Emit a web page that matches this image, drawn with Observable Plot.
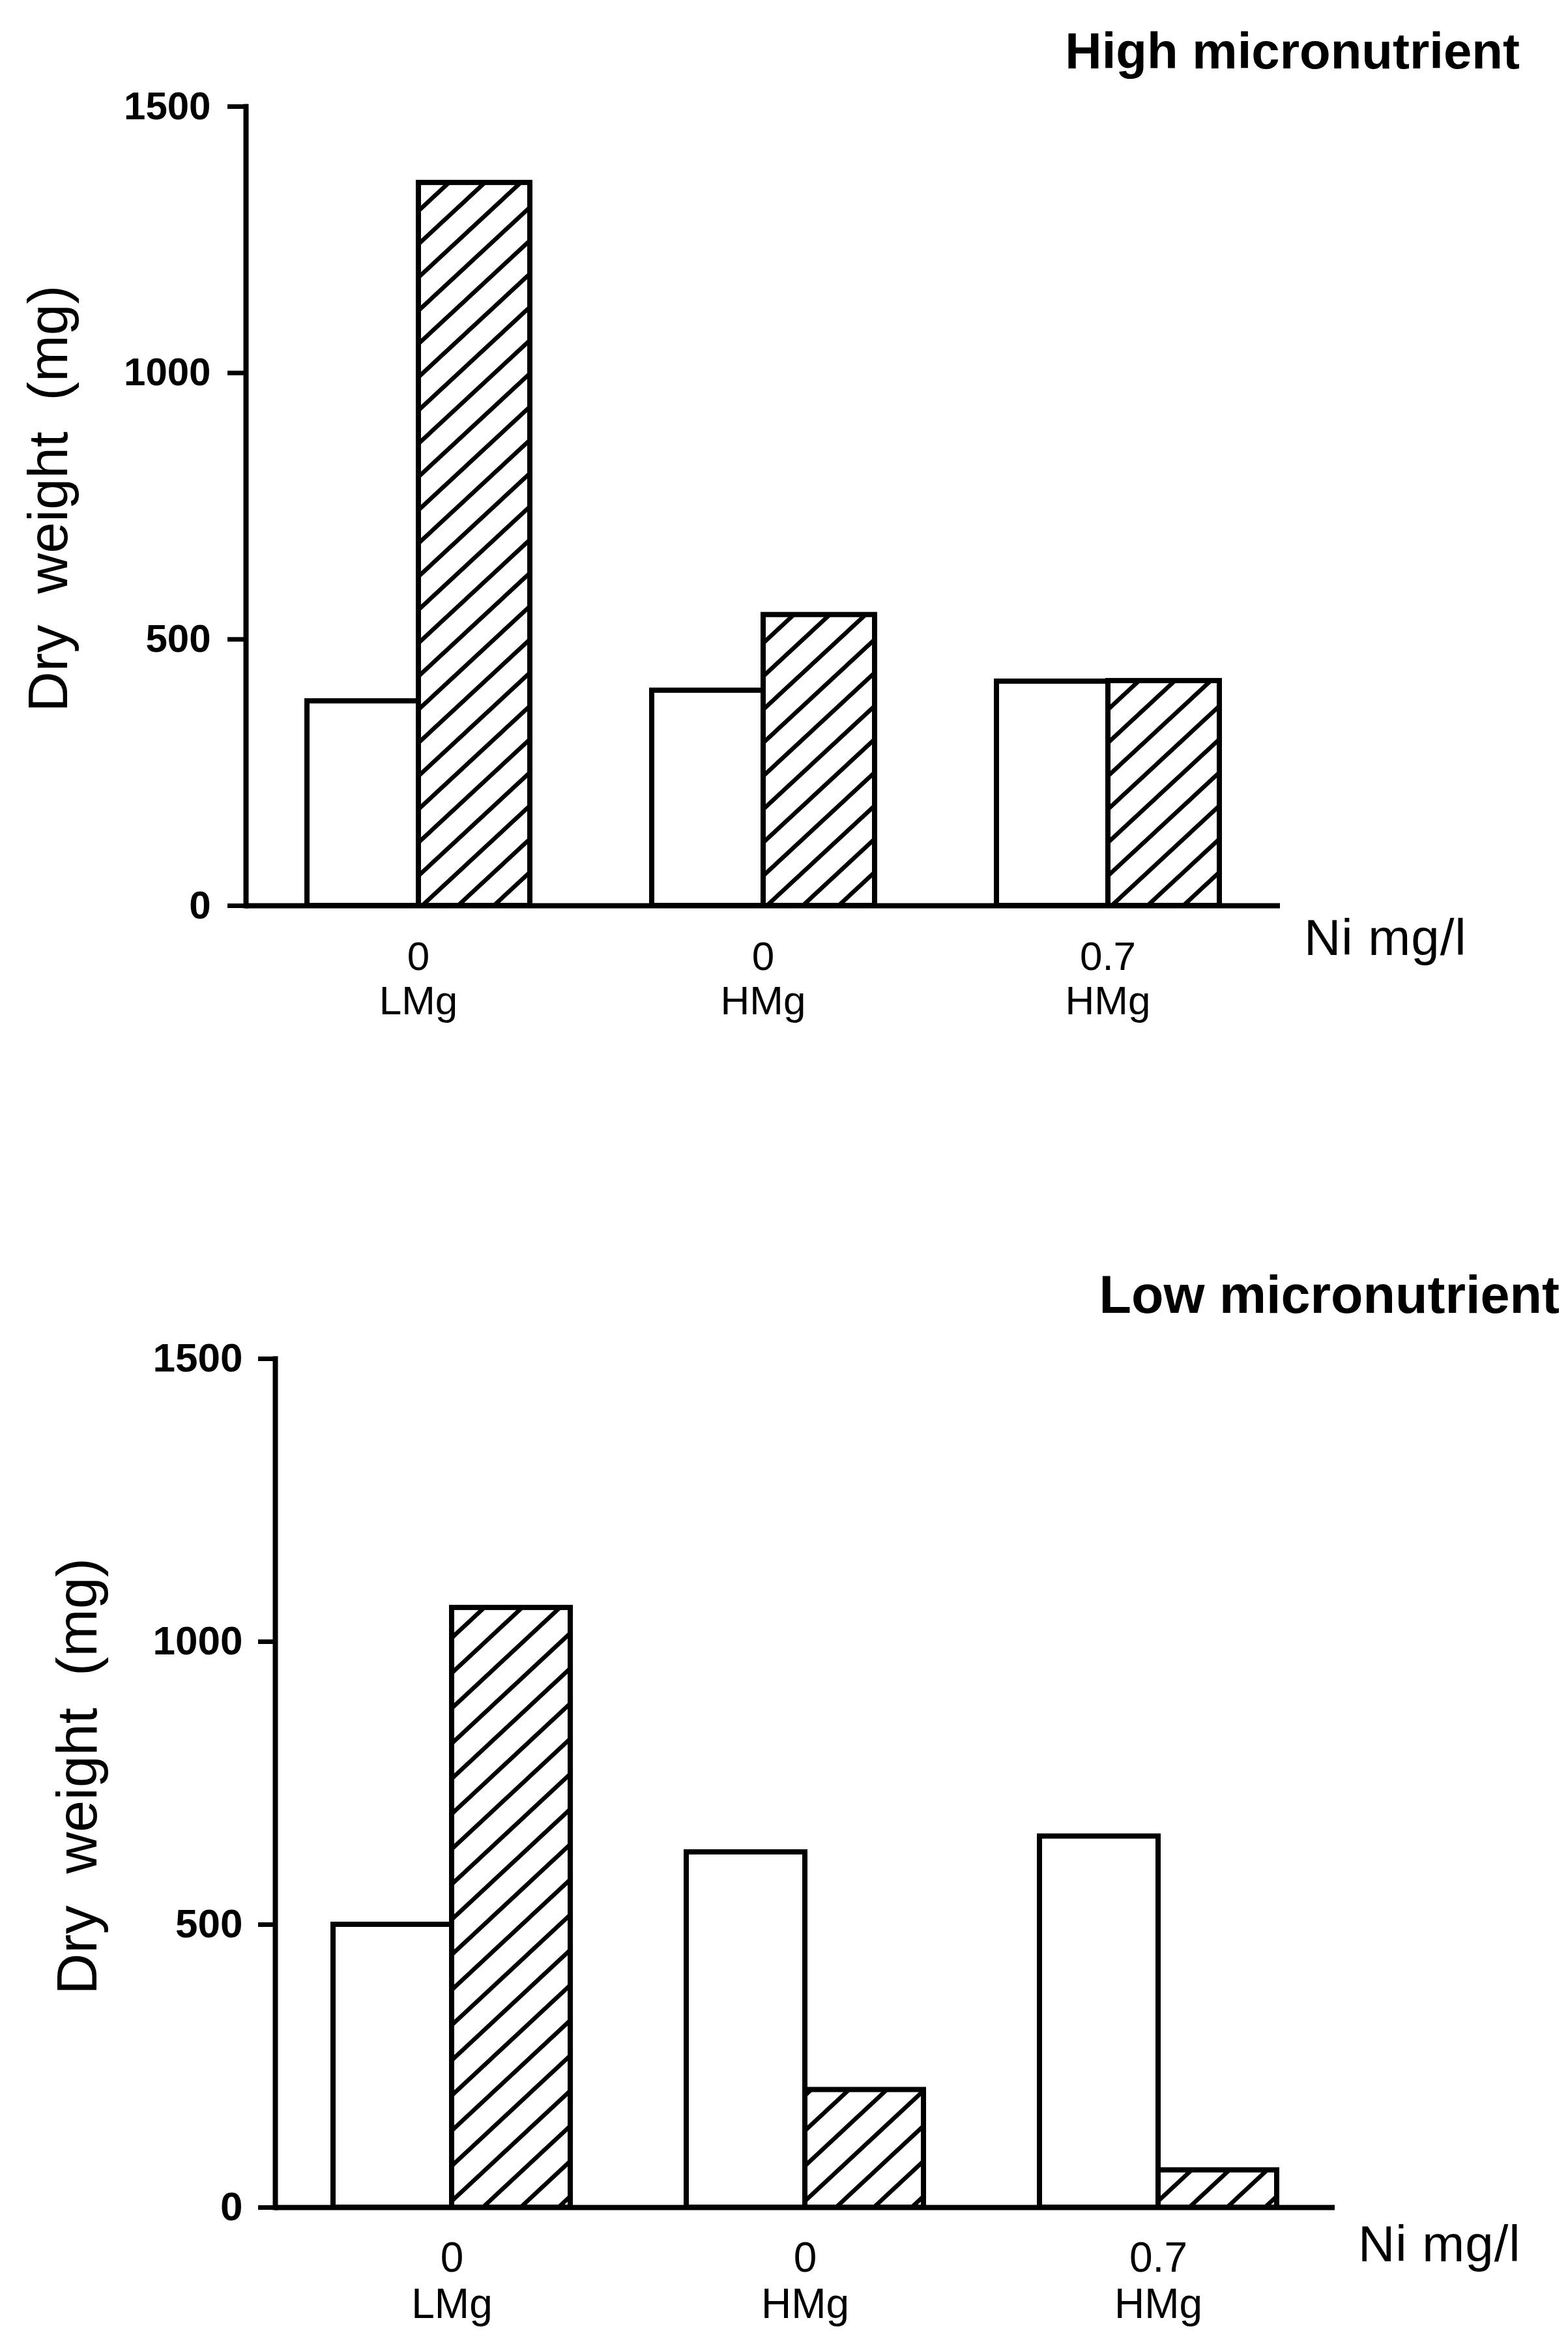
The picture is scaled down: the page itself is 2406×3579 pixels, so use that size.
<!DOCTYPE html>
<html>
<head>
<meta charset="utf-8">
<script src="https://cdn.jsdelivr.net/npm/d3@7"></script>
<script src="https://cdn.jsdelivr.net/npm/@observablehq/plot@0.6"></script>
<style>
  html, body { margin: 0; padding: 0; background: white; }
  #page { position: relative; width: 2406px; height: 3579px; background: white; overflow: hidden;
          font-family: "Liberation Sans", Arial, Helvetica, sans-serif; color: black; }
  .panel { position: absolute; left: 0; }
  .title { position: absolute; font-weight: bold; line-height: 1; white-space: nowrap; }
  .unit { position: absolute; line-height: 1; white-space: nowrap; letter-spacing: 1px; }
  .ylab { position: absolute; line-height: 1; white-space: pre; transform: translate(-50%, -50%) rotate(-90deg); }
</style>
</head>
<body>
<div id="page"></div>
<script>
// ---- data ----
const groups = ["0\nLMg", "0\nHMg", "0.7\nHMg"];          // Ni mg/l and Mg level
const seriesNames = ["open", "hatched"];
const yTicks = [0, 500, 1000, 1500];
const highOpen = [384, 404, 421];      // High micronutrient, open bars
const highHatched = [1357, 546, 422];  // High micronutrient, hatched bars
const lowOpen = [500, 628, 656];       // Low micronutrient, open bars
const lowHatched = [1060, 208, 66];    // Low micronutrient, hatched bars
const titles = ["High micronutrient", "Low micronutrient"];
const yLabel = "Dry  weight  (mg)";
const xUnit = "Ni mg/l";

const FONT = '"Liberation Sans", Arial, Helvetica, sans-serif';
const page = document.getElementById("page");

function panel(cfg) {
  const data = groups.flatMap((g, i) => [
    {group: g, series: "open", value: cfg.open[i]},
    {group: g, series: "hatched", value: cfg.hatched[i]}
  ]);
  const openData = data.filter(d => d.series === "open");
  const hatchData = data.filter(d => d.series === "hatched");
  const svg = Plot.plot({
    width: 2406,
    height: cfg.height,
    marginTop: cfg.marginTop,
    marginBottom: cfg.marginBottom,
    marginLeft: cfg.marginLeft,
    marginRight: cfg.marginRight,
    style: {fontFamily: FONT, background: "transparent", overflow: "visible", color: "black"},
    fx: {domain: groups, padding: 0, axis: null},
    x: {domain: seriesNames, paddingInner: 0, paddingOuter: cfg.paddingOuter, axis: null},
    y: {domain: [0, 1500], axis: null},
    marks: [
      Plot.barY(openData, {fx: "group", x: "series", y: "value", fill: "white", stroke: "black", strokeWidth: 8}),
      Plot.barY(hatchData, {fx: "group", x: "series", y: "value", fill: `url(#${cfg.id})`, stroke: "black", strokeWidth: 8}),
      Plot.ruleY([0], {stroke: "black", strokeWidth: 8}),
      Plot.frame({anchor: "left", facetAnchor: "left", stroke: "black", strokeWidth: 8}),
      Plot.axisY({ticks: yTicks, tickSize: cfg.tickSize, tickPadding: cfg.tickPadding, fontSize: cfg.tickFont,
                  fontWeight: "bold", strokeWidth: 7, label: null, tickFormat: d3.format("d")}),
      Plot.axisFx({anchor: "bottom", tickSize: 0, tickPadding: cfg.fxPadding, fontSize: cfg.fxFont,
                   lineHeight: cfg.fxLineHeight, label: null, tickFormat: d => d})
    ]
  });
  // hatch pattern definition
  const w = cfg.hatchW, h = cfg.hatchH;
  const defs = d3.select(svg).insert("defs", ":first-child");
  const pat = defs.append("pattern")
    .attr("id", cfg.id)
    .attr("patternUnits", "userSpaceOnUse")
    .attr("width", w).attr("height", h);
  pat.append("rect").attr("width", w).attr("height", h).attr("fill", "white");
  pat.append("path")
    .attr("d", `M0,${h}L${w},0M${-w * 0.2},${h * 0.2}L${w * 0.2},${-h * 0.2}M${w * 0.8},${h * 1.2}L${w * 1.2},${h * 0.8}`)
    .attr("stroke", "black").attr("stroke-width", 6.5).attr("fill", "none");

  const holder = document.createElement("div");
  holder.className = "panel";
  holder.style.top = cfg.top + "px";
  holder.appendChild(svg);
  page.appendChild(holder);

  const t = document.createElement("div");
  t.className = "title";
  t.textContent = cfg.title;
  t.style.fontSize = cfg.titleFont + "px";
  t.style.right = cfg.titleRight + "px";
  t.style.top = cfg.titleTop + "px";
  page.appendChild(t);

  const u = document.createElement("div");
  u.className = "unit";
  u.textContent = xUnit;
  u.style.fontSize = cfg.unitFont + "px";
  u.style.left = cfg.unitLeft + "px";
  u.style.top = cfg.unitTop + "px";
  page.appendChild(u);

  const yl = document.createElement("div");
  yl.className = "ylab";
  yl.textContent = yLabel;
  yl.style.fontSize = cfg.ylabFont + "px";
  yl.style.left = cfg.ylabX + "px";
  yl.style.top = cfg.ylabY + "px";
  page.appendChild(yl);
}

panel({
  id: "hatchHigh", open: highOpen, hatched: highHatched, title: titles[0],
  top: 0, height: 1700, marginTop: 163, marginBottom: 311, marginLeft: 376, marginRight: 442,
  paddingOuter: 0.538, tickSize: 28, tickPadding: 26, tickFont: 60,
  fxPadding: 50, fxFont: 62, fxLineHeight: 1.1,
  hatchW: 55, hatchH: 51,
  titleFont: 78, titleRight: 74, titleTop: 39,
  unitFont: 78, unitLeft: 2001, unitTop: 1399,
  ylabFont: 86, ylabX: 73, ylabY: 765
});

panel({
  id: "hatchLow", open: lowOpen, hatched: lowHatched, title: titles[1],
  top: 1700, height: 1879, marginTop: 384, marginBottom: 193, marginLeft: 422, marginRight: 358,
  paddingOuter: 0.489, tickSize: 26, tickPadding: 24, tickFont: 62,
  fxPadding: 49, fxFont: 64, fxLineHeight: 1.1,
  hatchW: 58, hatchH: 54,
  titleFont: 81, titleRight: 13, titleTop: 1946,
  unitFont: 78, unitLeft: 2084, unitTop: 3403,
  ylabFont: 88, ylabX: 118, ylabY: 2725
});
</script>
</body>
</html>
